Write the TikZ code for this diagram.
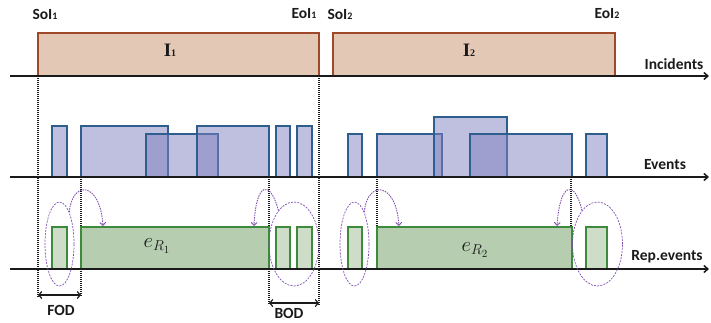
\documentclass[tikz,border=0pt]{standalone}
\usepackage{fontspec}
\usepackage{amsmath}
\usepackage{xcolor}
\usepackage{tikz}
\usetikzlibrary{calc,arrows.meta,shapes.geometric}
\newfontfamily\calib{Carlito}
\newfontfamily\serifb{Liberation Serif}
\definecolor{axis}{HTML}{1A1A1A}
\definecolor{incfill}{HTML}{E4C8B6}
\definecolor{incline}{HTML}{A0482A}
\definecolor{evfill}{HTML}{8080BF}
\definecolor{evline}{HTML}{2E5E8E}
\definecolor{repfill}{HTML}{B6CDAF}
\definecolor{replight}{HTML}{CDDDC8}
\definecolor{repline}{HTML}{3D8A3D}
\definecolor{loop}{HTML}{7F4FB0}
\tikzset{
  ax/.style={draw=axis, line width=1.5pt, -{Straight Barb[length=4pt,width=7pt]}},
  inc/.style={draw=incline, fill=incfill, line width=1.3pt},
  ev/.style={draw=evline, fill=evfill, fill opacity=0.5, draw opacity=1, line width=1.3pt},
  rep/.style={draw=repline, fill=repfill, line width=1.3pt},
  repl/.style={draw=repline, fill=replight, line width=1.3pt},
  cut/.style={draw=axis, dash pattern=on 1pt off 1pt, line width=1.1pt},
  grp/.style={ellipse, draw=loop, dash pattern=on 2pt off 1.2pt, line width=0.7pt, inner sep=0pt},
  hop/.style={draw=loop, dash pattern=on 1.5pt off 1pt, line width=0.9pt, -{Straight Barb[length=3pt,width=6pt]}},
  span/.style={draw=axis, line width=1.2pt, {Straight Barb[length=3pt,width=7pt]}-{Straight Barb[length=3pt,width=7pt]}},
  lab/.style={text=axis, font=\calib\bfseries\fontsize{15.5}{17}\selectfont, inner sep=0pt},
  big/.style={text=axis, font=\serifb\bfseries\fontsize{19}{19}\selectfont, inner sep=0pt},
  ename/.style={text=axis, font=\fontsize{21}{21}\selectfont, inner sep=0pt}
}
\newcommand{\sm}[1]{{\fontsize{10}{10}\selectfont #1}}

\begin{document}
\begin{tikzpicture}[x=1pt,y=-1pt]
  \useasboundingbox (0,0) rectangle (711,322);
  % cut lines
  \coordinate (s1) at (38,76);   \coordinate (s1b) at (38,297);
  \coordinate (f1) at (81,177);  \coordinate (f1b) at (81,297);
  \coordinate (b1) at (269,177); \coordinate (b1b) at (269,305);
  \coordinate (e1) at (319,76);  \coordinate (e1b) at (319,305);
  \coordinate (f2) at (377,177); \coordinate (f2b) at (377,227);
  \coordinate (b2) at (571,177); \coordinate (b2b) at (571,227);
  \draw[cut] (s1)--(s1b);
  \draw[cut] (f1)--(f1b);
  \draw[cut] (b1)--(b1b);
  \draw[cut] (e1)--(e1b);
  \draw[cut] (f2)--(f2b);
  \draw[cut] (b2)--(b2b);
  % incidents
  \draw[inc] (38,76) rectangle (319,33);
  \draw[inc] (333,76) rectangle (615,33);
  \node[big] (i1) at (170,50) {I\sm{\bfseries 1}};
  \node[big] (i2) at (469,50) {I\sm{\bfseries 2}};
  \node[lab] (sol1) at (45,14) {SoI\sm{1}};
  \node[lab] (eol1) at (304,14) {EoI\sm{1}};
  \node[lab] (sol2) at (340,14) {SoI\sm{2}};
  \node[lab] (eol2) at (607,14) {EoI\sm{2}};
  % events
  \foreach \a/\b/\t in {52/67/126, 81/168/126, 146/218/134, 197/269/126, 276/290/126, 297/312/126,
                        348/362/134, 377/442/134, 434/507/117, 470/572/134, 586/607/134}
    \draw[ev] (\a,177) rectangle (\b,\t);
  % representative events
  \draw[repl] (52,269) rectangle (67,227);
  \draw[rep] (81,269) rectangle (269,227);
  \draw[repl] (276,269) rectangle (290,227);
  \draw[repl] (297,269) rectangle (312,227);
  \draw[repl] (348,269) rectangle (362,227);
  \draw[rep] (377,269) rectangle (572,227);
  \draw[repl] (586,269) rectangle (607,227);
  \node[ename] (er1) at (157,246) {$e_{R_1}$};
  \node[ename] (er2) at (475,250) {$e_{R_2}$};
  % axes
  \draw[ax] (10,76) -- (709,76);
  \draw[ax] (10,177) -- (709,177);
  \draw[ax] (10,269) -- (709,269);
  \node[lab] (inc) at (674,64) {Incidents};
  \node[lab] (evt) at (665,165) {Events};
  \node[lab] (rev) at (667,257) {Rep.events};
  % groups and hops
  \node[grp, minimum width=29pt, minimum height=84pt] (g1) at (59.5,244) {};
  \node[grp, minimum width=50pt, minimum height=84pt] (g2) at (294,244) {};
  \node[grp, minimum width=29pt, minimum height=84pt] (g3) at (354.5,244) {};
  \node[grp, minimum width=50pt, minimum height=84pt] (g4) at (597.5,244) {};
  \coordinate (t1) at (103,226);
  \coordinate (t2) at (254,226);
  \coordinate (t3) at (399,226);
  \coordinate (t4) at (557,226);
  \draw[hop] (g1.73) .. controls ($(g1.73)+(3,-32)$) and ($(t1)+(-3,-45)$) .. (t1);
  \draw[hop] (g2.115) .. controls ($(g2.115)+(-8,-31)$) and ($(t2)+(2,-45)$) .. (t2);
  \draw[hop] (g3.73) .. controls ($(g3.73)+(3,-32)$) and ($(t3)+(-3,-45)$) .. (t3);
  \draw[hop] (g4.115) .. controls ($(g4.115)+(-7,-31)$) and ($(t4)+(3,-45)$) .. (t4);
  % spans
  \coordinate (fa) at (38,295); \coordinate (fb) at (81,295);
  \coordinate (ba) at (269,303); \coordinate (bb) at (319,303);
  \draw[span] (fa) -- (fb);
  \draw[span] (ba) -- (bb);
  \node[lab] (fod) at (61,310) {FOD};
  \node[lab] (bod) at (289,313) {BOD};
\end{tikzpicture}
\end{document}
